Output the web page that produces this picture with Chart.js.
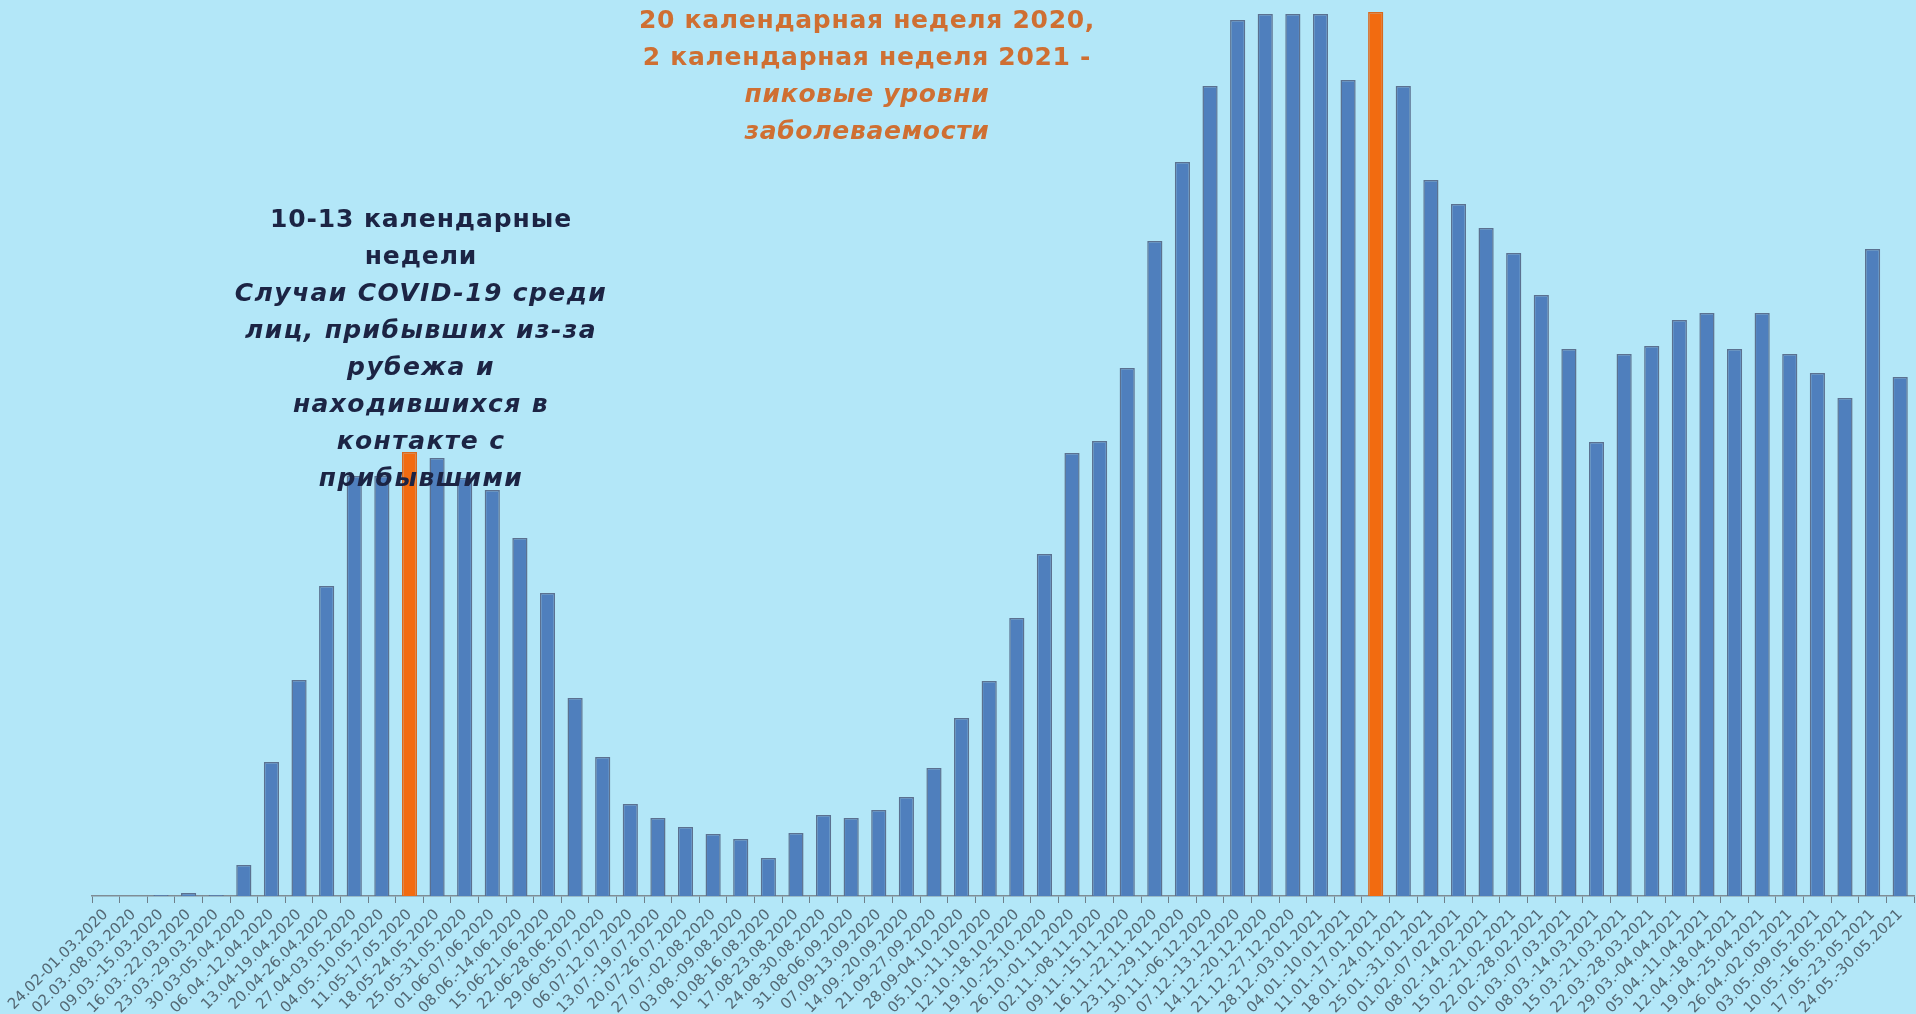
<!DOCTYPE html>
<html lang="ru">
<head>
<meta charset="utf-8">
<title>COVID-19 по календарным неделям</title>
<script src="https://cdn.jsdelivr.net/npm/chart.js@4"></script>
<style>
  html, body { margin: 0; padding: 0; background: #b3e7f8; overflow: hidden; }
  #wrap { position: relative; width: 1916px; height: 1014px; }
  .note {
    position: absolute;
    font-family: "DejaVu Sans", sans-serif;
    font-weight: bold;
    font-size: 25px;
    line-height: 37px;
    text-align: center;
    white-space: nowrap;
    transform: translateX(-50%);
  }
  .note i { font-style: italic; }
  #peak { left: 867px; top: 1px; color: #cf6f32; letter-spacing: 0.7px; }
  #early { left: 421px; top: 200px; color: #1c2444; letter-spacing: 0.9px; }
  #early i { letter-spacing: 1.4px; }
</style>
</head>
<body>
<div id="wrap">
  <canvas id="weeks"></canvas>
  <div class="note" id="peak">20 календарная неделя 2020,<br>2 календарная неделя 2021 -<br><i>пиковые уровни<br>заболеваемости</i></div>
  <div class="note" id="early">10-13 календарные<br>недели<br><i>Случаи COVID-19 среди<br>лиц, прибывших из-за<br>рубежа и<br>находившихся в<br>контакте с<br>прибывшими</i></div>
</div>
<script>
const weeks = [
  '24.02-01.03.2020', '02.03.-08.03.2020', '09.03.-15.03.2020', '16.03.-22.03.2020',
  '23.03.-29.03.2020', '30.03-05.04.2020', '06.04.-12.04.2020', '13.04-19.04.2020',
  '20.04-26.04.2020', '27.04-03.05.2020', '04.05.-10.05.2020', '11.05-17.05.2020',
  '18.05-24.05.2020', '25.05-31.05.2020', '01.06-07.06.2020', '08.06.-14.06.2020',
  '15.06-21.06.2020', '22.06-28.06.2020', '29.06-05.07.2020', '06.07-12.07.2020',
  '13.07.-19.07.2020', '20.07-26.07.2020', '27.07.-02.08.2020', '03.08.-09.08.2020',
  '10.08-16.08.2020', '17.08-23.08.2020', '24.08-30.08.2020', '31.08-06.09.2020',
  '07.09-13.09.2020', '14.09.-20.09.2020', '21.09-27.09.2020', '28.09-04.10.2020',
  '05.10.-11.10.2020', '12.10.-18.10.2020', '19.10.-25.10.2020', '26.10.-01.11.2020',
  '02.11.-08.11.2020', '09.11.-15.11.2020', '16.11.-22.11.2020', '23.11.-29.11.2020',
  '30.11.-06.12.2020', '07.12.-13.12.2020', '14.12.-20.12.2020', '21.12.-27.12.2020',
  '28.12.-03.01.2021', '04.01.-10.01.2021', '11.01.-17.01.2021', '18.01.-24.01.2021',
  '25.01.-31.01.2021', '01.02.-07.02.2021', '08.02.-14.02.2021', '15.02.-21.02.2021',
  '22.02.-28.02.2021', '01.03.-07.03.2021', '08.03.-14.03.2021', '15.03.-21.03.2021',
  '22.03.-28.03.2021', '29.03.-04.04.2021', '05.04.-11.04.2021', '12.04.-18.04.2021',
  '19.04.-25.04.2021', '26.04.-02.05.2021', '03.05.-09.05.2021', '10.05.-16.05.2021',
  '17.05.-23.05.2021', '24.05.-30.05.2021'
];

// weekly incidence (no axis in the original, relative units)
const incidence = [
  0, 0, 1, 3, 1, 31, 134, 216, 310, 420, 420, 444,
  438, 418, 406, 358, 303, 198, 139, 92, 78, 69, 62, 57,
  38, 63, 81, 78, 86, 99, 128, 178, 215, 278, 342, 443,
  455, 528, 655, 734, 810, 876, 882, 882, 882, 816, 884, 810,
  716, 692, 668, 643, 601, 547, 454, 542, 550, 576, 583, 547,
  583, 542, 523, 498, 647, 519
];

// peak weeks: 20th week of 2020 and 2nd week of 2021
const peakWeeks = ['11.05-17.05.2020', '11.01.-17.01.2021'];

const yMax = 896;

const barColors = weeks.map(w => peakWeeks.includes(w) ? '#f26b10' : '#4f7fbd');
const edgeColors = weeks.map(w => peakWeeks.includes(w) ? '#d8691e' : '#5b7190');

new Chart(document.getElementById('weeks'), {
  type: 'bar',
  data: {
    labels: weeks,
    datasets: [{
      data: incidence,
      backgroundColor: barColors,
      borderColor: edgeColors,
      borderWidth: 1.5,
      barPercentage: 0.55,
      categoryPercentage: 1
    }]
  },
  options: {
    responsive: true,
    maintainAspectRatio: false,
    animation: false,
    layout: { padding: { top: 0, right: 2, bottom: 0, left: 92 } },
    plugins: {
      legend: { display: false },
      tooltip: { enabled: false }
    },
    scales: {
      x: {
        grid: {
          offset: true,
          drawOnChartArea: false,
          drawTicks: true,
          tickLength: 7,
          color: '#6e7f8a'
        },
        border: { color: '#7f8d96', width: 1.5 },
        ticks: {
          autoSkip: false,
          minRotation: 45,
          maxRotation: 45,
          padding: 3,
          color: '#546874',
          font: { family: 'DejaVu Sans', size: 15 }
        },
        afterFit: (axis) => { axis.height = 118; }
      },
      y: {
        display: false,
        min: 0,
        max: yMax
      }
    }
  }
});
</script>
</body>
</html>
